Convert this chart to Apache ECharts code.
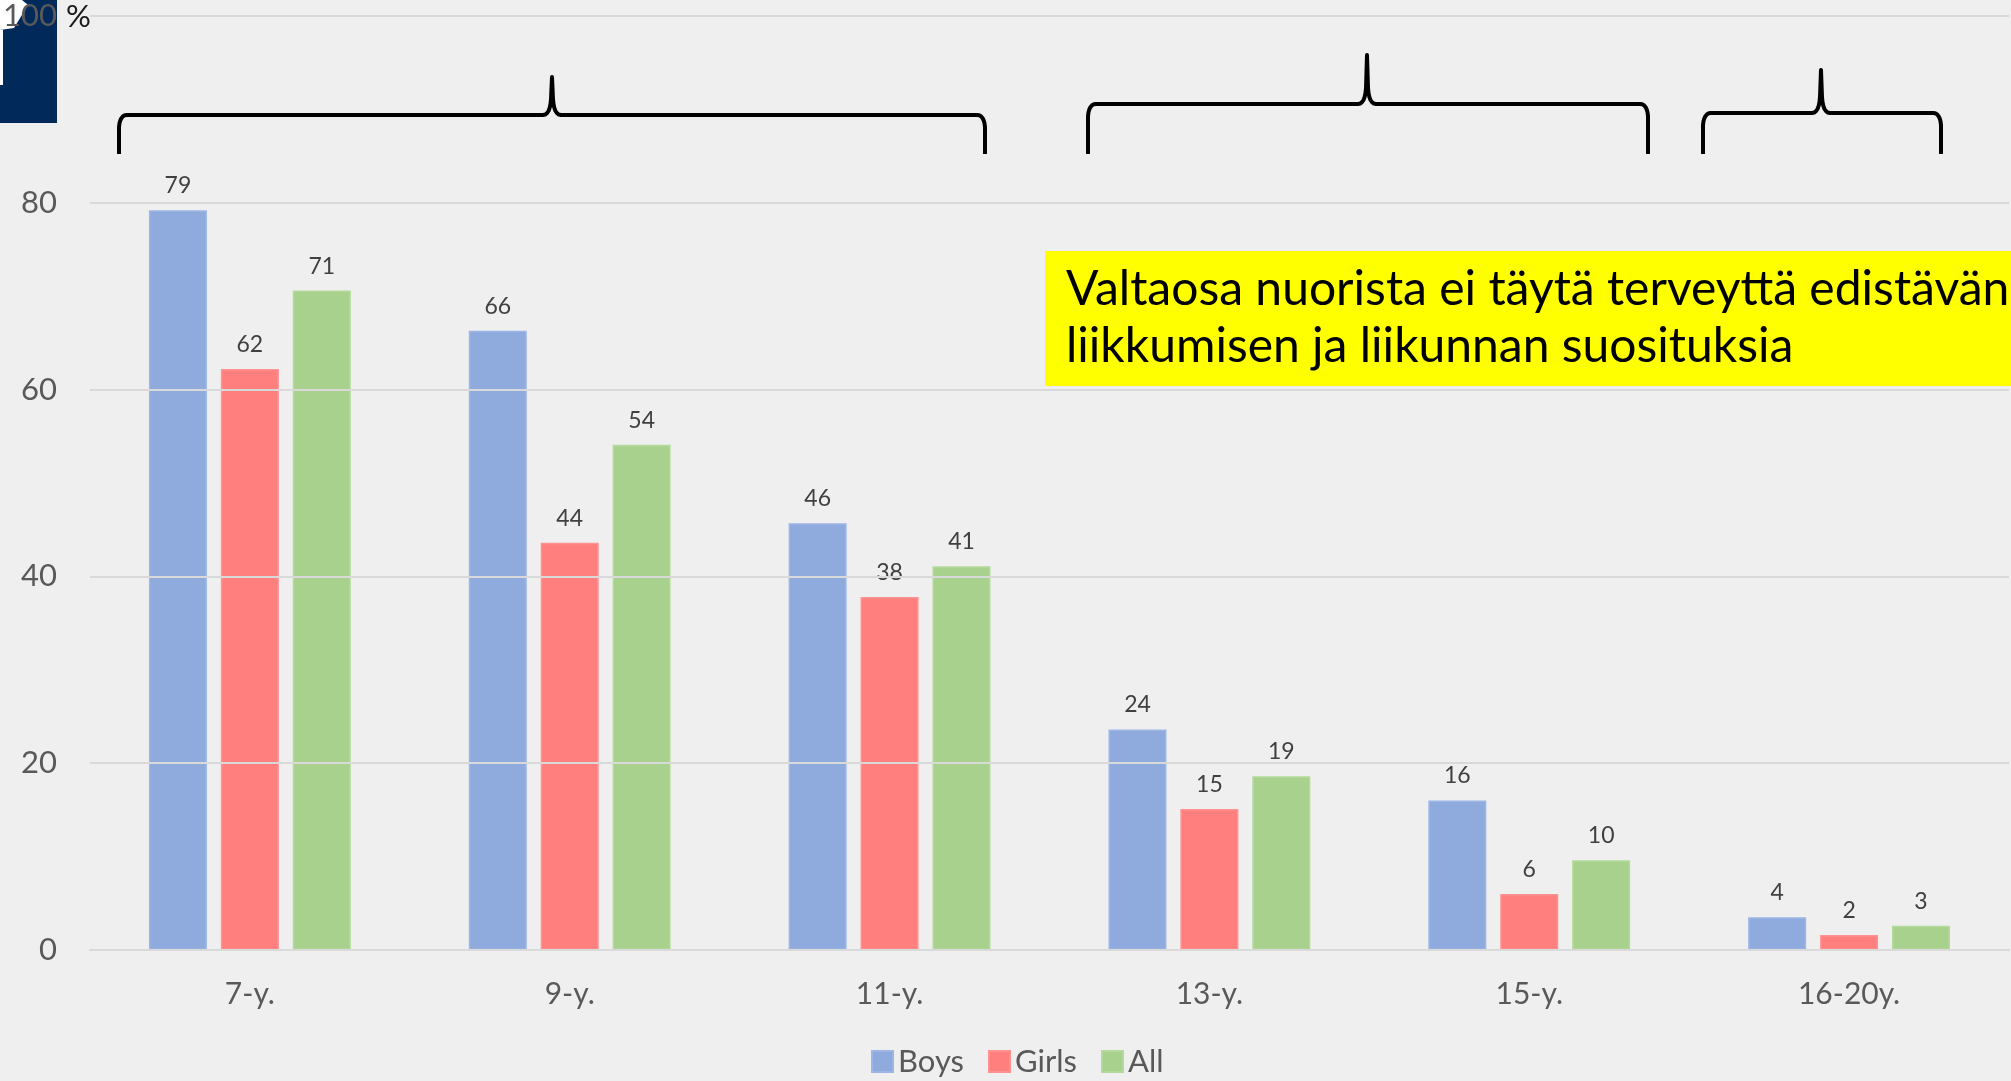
<!DOCTYPE html>
<html>
<head>
<meta charset="utf-8">
<title>Liikkumissuositukset</title>
<script src="https://cdn.jsdelivr.net/npm/echarts@6/dist/echarts.min.js"></script>
<style>
  html, body { margin: 0; padding: 0; background: #efefef; }
  #main { width: 2011px; height: 1081px; }
</style>
</head>
<body>
<div id="main"></div>
<script>
// ikäryhmät
var categories = ['7-y.', '9-y.', '11-y.', '13-y.', '15-y.', '16-20y.'];
// osuus (%) joka täyttää suosituksen, luettu kuvasta
var boys  = [79.2, 66.3, 45.7, 23.6, 16.0, 3.5];
var girls = [62.2, 43.6, 37.8, 15.1, 6.0, 1.6];
var all   = [70.6, 54.1, 41.1, 18.6, 9.6, 2.6];
var seriesNames = ['Boys', 'Girls', 'All'];

var font = 'Lato, "Noto Sans", sans-serif';

// pisteet toisen asteen käyrälle
function quad(p0, p1, p2, n) {
  var pts = [];
  for (var i = 1; i <= n; i++) {
    var t = i / n, u = 1 - t;
    pts.push([u * u * p0[0] + 2 * u * t * p1[0] + t * t * p2[0],
              u * u * p0[1] + 2 * u * t * p1[1] + t * t * p2[1]]);
  }
  return pts;
}

// aaltosulku ylöspäin: vasen, oikea, vaakaviiva, alareuna, kärki x, kärki y
function bracePoints(l, r, h, b, m, t) {
  var pts = [[l, b], [l, h + 12]];
  pts = pts.concat(quad([l, h + 12], [l + 1, h], [l + 8, h], 6));
  pts.push([m - 9, h]);
  pts = pts.concat(quad([m - 9, h], [m - 2, h], [m - 1, h - 16], 6));
  pts.push([m, t]);
  pts.push([m + 1, h - 16]);
  pts = pts.concat(quad([m + 1, h - 16], [m + 2, h], [m + 9, h], 6));
  pts.push([r - 8, h]);
  pts = pts.concat(quad([r - 8, h], [r - 1, h], [r, h + 12], 6));
  pts.push([r, b]);
  return pts;
}

function brace(l, r, h, b, m, t) {
  return {
    type: 'polyline', z: 10,
    shape: { points: bracePoints(l, r, h, b, m, t) },
    style: { fill: null, stroke: '#000', lineWidth: 4, lineJoin: 'round' }
  };
}

var myChart = echarts.init(document.getElementById('main'));

function barSeries(name, data, color, border) {
  return {
    name: name,
    type: 'bar',
    data: data,
    barWidth: 58,
    barGap: '24%',
    itemStyle: {
      color: color,
      borderColor: border,
      borderWidth: 1.5
    },
    label: {
      show: true,
      position: 'top',
      distance: 13,
      fontFamily: font,
      fontSize: 23,
      color: '#404040',
      formatter: function (p) { return Math.round(p.value); }
    }
  };
}

var option = {
  backgroundColor: '#efefef',
  animation: false,
  grid: {
    left: 86,
    right: 2,
    top: 16,
    bottom: 131
  },
  legend: {
    data: seriesNames,
    left: 866,
    top: 1041,
    itemWidth: 21,
    itemHeight: 21,
    itemGap: 24,
    icon: 'rect',
    textStyle: {
      fontFamily: font,
      fontSize: 31,
      color: '#595959'
    }
  },
  xAxis: {
    type: 'category',
    data: categories,
    axisTick: { show: false },
    axisLine: { lineStyle: { color: '#d9d9d9', width: 2 } },
    axisLabel: {
      fontFamily: font,
      fontSize: 30,
      color: '#595959',
      margin: 29
    }
  },
  yAxis: {
    type: 'value',
    min: 0,
    max: 100,
    interval: 20,
    z: 5,
    axisLine: { show: false },
    axisTick: { show: false },
    splitLine: { lineStyle: { color: '#d9d9d9', width: 2 } },
    axisLabel: {
      fontFamily: font,
      fontSize: 31,
      color: '#595959',
      margin: 33,
      showMaxLabel: true
    }
  },
  series: [
    barSeries(seriesNames[0], boys, '#8faadc', '#9db6e6'),
    barSeries(seriesNames[1], girls, '#ff7f7f', '#ff9191'),
    barSeries(seriesNames[2], all, '#a9d18e', '#b3da9a')
  ],
  graphic: [
    // logon pala vasemmassa yläkulmassa
    {
      type: 'rect', z: -1,
      shape: { x: 0, y: 0, width: 57, height: 123 },
      style: { fill: '#012a5a' }
    },
    {
      type: 'polygon', z: -1,
      shape: { points: [[0, 0], [22, 0], [28, 5], [14, 28], [0, 30]] },
      style: { fill: '#ffffff' }
    },
    {
      type: 'rect', z: -1,
      shape: { x: 0, y: 30, width: 3, height: 55 },
      style: { fill: '#ffffff' }
    },
    {
      type: 'text', x: 66, y: 1,
      style: { text: '%', fontFamily: font, fontSize: 31, fill: '#1a1a1a' }
    },
    // aaltosulut
    brace(119, 985, 115, 154, 552, 77),
    brace(1088, 1648, 104, 154, 1367, 55),
    brace(1703, 1941, 113, 154, 1821, 70),
    // keltainen huomiolaatikko
    {
      type: 'rect', z: 10,
      shape: { x: 1045, y: 251, width: 980, height: 135 },
      style: { fill: '#ffff00' }
    },
    {
      type: 'text', z: 11, x: 1066, y: 261,
      style: {
        text: 'Valtaosa nuorista ei täytä terveyttä edistävän\nliikkumisen ja liikunnan suosituksia',
        fontFamily: font,
        fontSize: 48,
        lineHeight: 57,
        fill: '#000'
      }
    }
  ]
};

myChart.setOption(option);
window.addEventListener('resize', function () { myChart.resize(); });
</script>
</body>
</html>
